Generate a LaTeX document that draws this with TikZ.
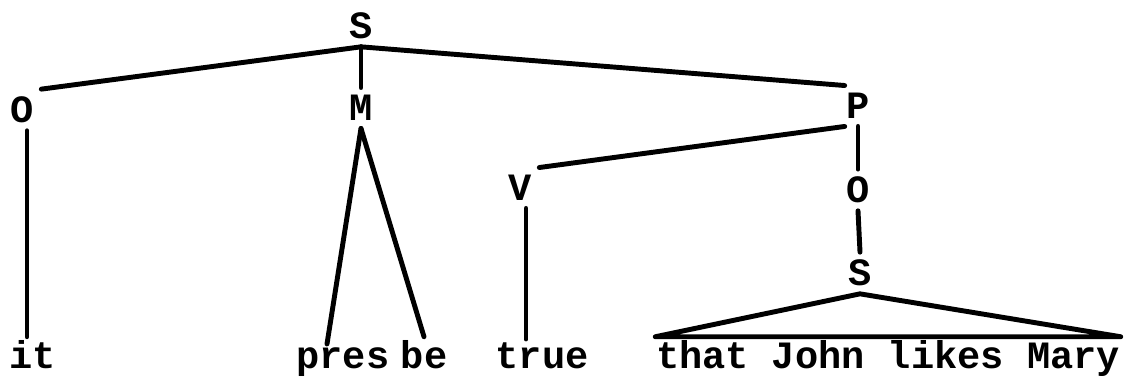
\documentclass[tikz,border=0pt]{standalone}
\usepackage{fontspec}
\setmonofont{Liberation Mono}
\begin{document}
\begin{tikzpicture}[font=\ttfamily\bfseries\fontsize{11}{13}\selectfont,
        lab/.style={inner sep=2pt},
        word/.style={inner sep=1pt, anchor=base},
        edge/.style={line width=1.4pt, line cap=round, line join=round}]
        \useasboundingbox (0,0) rectangle (11.26,3.79);
        \node[lab] (s) at (3.61,3.53) {S};
        \node[lab] (o) at (0.22,2.69) {O};
        \node[lab] (m) at (3.61,2.71) {M};
        \node[lab] (p) at (8.58,2.73) {P};
        \node[lab] (v) at (5.20,1.91) {V};
        \node[lab] (o2) at (8.58,1.89) {O};
        \node[lab] (s2) at (8.60,1.06) {S};
        \node[word] (it) at (0.33,0.10) {it};
        \node[word] (pres) at (3.43,0.10) {pres};
        \node[word] (be) at (4.24,0.10) {be};
        \node[word] (true) at (5.42,0.10) {true};
        \node[word, inner xsep=0pt] (clause) at (8.88,0.10) {that John likes Mary};
        \draw[edge] (s.south) -- (o.north east);
        \draw[edge] (s.south) -- (m.north);
        \draw[edge] (s.south) -- ([xshift=0.6mm]p.north west);
        \draw[edge] ([xshift=0.5mm]o.south) -- ([xshift=0.5mm]o.south |- it.north);
        \draw[edge] (m.south) -- ([xshift=-1.6mm]pres.north);
        \draw[edge] (m.south) -- (be.north);
        \draw[edge] ([xshift=0.6mm]p.south west) -- (v.north east);
        \draw[edge] ([xshift=0.6mm]v.south) -- ([xshift=0.6mm]v.south |- true.north);
        \draw[edge] (p.south) -- (o2.north);
        \draw[edge] (o2.south) -- (s2.north);
        \draw[edge] (s2.south) -- (clause.north west) -- (clause.north east) -- cycle;
    \end{tikzpicture}
\end{document}
